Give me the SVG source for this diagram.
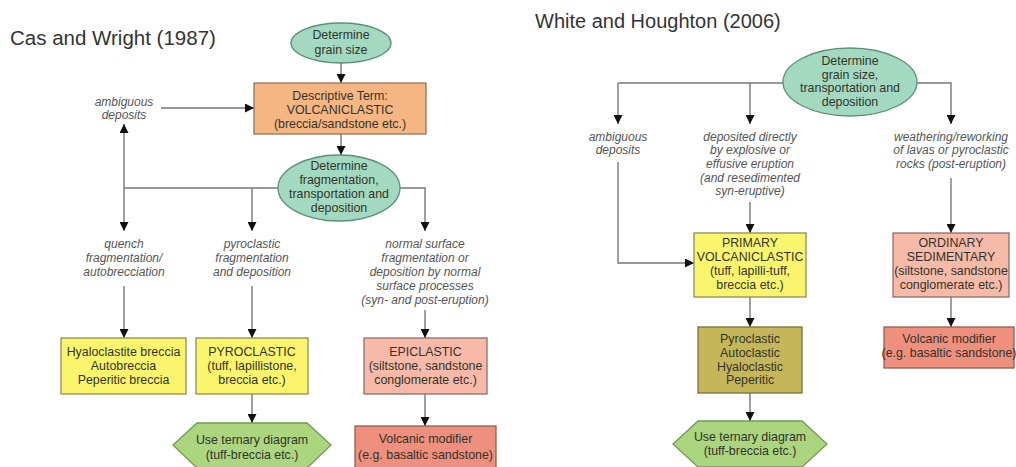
<svg xmlns="http://www.w3.org/2000/svg" width="1016" height="467" viewBox="0 0 1016 467">
<defs>
<marker id="ah" viewBox="0 0 10 10" refX="10" refY="5" markerWidth="9" markerHeight="9" markerUnits="userSpaceOnUse" orient="auto">
<path d="M0,0 L10,5 L0,10 Z" fill="#111"/>
</marker>
</defs>
<style>
text{font-family:"Liberation Sans",Arial,sans-serif;}
.title{font-size:20.5px;fill:#333;}
.t{font-size:12.4px;fill:#33332a;text-anchor:middle;}
.i{font-size:12px;fill:#555;font-style:italic;text-anchor:middle;}
.c{fill:none;stroke:#777;stroke-width:1.4;}
.a{marker-end:url(#ah);}
.ell{fill:#a3d9c0;stroke:#5c8f78;stroke-width:1.3;}
.org{fill:#f6b684;stroke:#8c7560;stroke-width:1.3;}
.yel{fill:#fbf56e;stroke:#8f8c55;stroke-width:1.3;}
.pink{fill:#f7baa8;stroke:#8d6f68;stroke-width:1.3;}
.sal{fill:#ef8f7d;stroke:#8d5f55;stroke-width:1.3;}
.hex{fill:#abd67f;stroke:#6e9a55;stroke-width:1.3;}
.olv{fill:#c5b759;stroke:#77703a;stroke-width:1.3;}
</style>
<rect width="1016" height="467" fill="#fff"/>

<text class="title" x="10" y="45">Cas and Wright (1987)</text>
<text class="title" x="535" y="28" style="font-size:20px">White and Houghton (2006)</text>

<g id="connectors">
<path class="c a" d="M341,63 V83"/>
<path class="c a" d="M161,108 H254"/>
<path class="c a" d="M341,134 V155"/>
<path class="c" d="M124,188 H278"/>
<path class="c a" d="M124,188 V124"/>
<path class="c a" d="M124,188 V231"/>
<path class="c a" d="M252,188 V231"/>
<path class="c a" d="M400,188 H425 V231"/>
<path class="c a" d="M124,286 V338"/>
<path class="c a" d="M252,286 V338"/>
<path class="c a" d="M425,310 V338"/>
<path class="c a" d="M252,394 V423"/>
<path class="c a" d="M425,394 V426"/>
<path class="c" d="M618,83 H783"/>
<path class="c a" d="M618,83 V124"/>
<path class="c a" d="M750,83 V124"/>
<path class="c a" d="M917,83 H951 V124"/>
<path class="c a" d="M618,162 V263 H694"/>
<path class="c a" d="M750,202 V233"/>
<path class="c a" d="M951,178 V233"/>
<path class="c a" d="M750,297 V327"/>
<path class="c a" d="M750,393 V421"/>
<path class="c a" d="M951,297 V327"/>
</g>

<g id="cw-grain">
<ellipse class="ell" cx="341" cy="43" rx="50" ry="20"/>
<text class="t" x="341" y="39">Determine</text>
<text class="t" x="341" y="54">grain size</text>
</g>
<g id="cw-volcaniclastic">
<rect class="org" x="254" y="83" width="172" height="51"/>
<text class="t" x="340" y="100">Descriptive Term:</text>
<text class="t" x="340" y="114">VOLCANICLASTIC</text>
<text class="t" x="340" y="128">(breccia/sandstone etc.)</text>
</g>
<g id="cw-ambiguous">
<text class="i" x="124" y="106">ambiguous</text>
<text class="i" x="124" y="119">deposits</text>
</g>
<g id="cw-fragmentation">
<ellipse class="ell" cx="339" cy="188" rx="61" ry="33"/>
<text class="t" x="339" y="170">Determine</text>
<text class="t" x="339" y="184">fragmentation,</text>
<text class="t" x="339" y="198">transportation and</text>
<text class="t" x="339" y="212">deposition</text>
</g>
<g id="cw-quench">
<text class="i" x="124" y="248">quench</text>
<text class="i" x="124" y="262">fragmentation/</text>
<text class="i" x="124" y="276">autobrecciation</text>
</g>
<g id="cw-pyro-label">
<text class="i" x="252" y="248">pyroclastic</text>
<text class="i" x="252" y="262">fragmentation</text>
<text class="i" x="252" y="276">and deposition</text>
</g>
<g id="cw-normal">
<text class="i" x="425" y="248">normal surface</text>
<text class="i" x="425" y="262">fragmentation or</text>
<text class="i" x="425" y="276">deposition by normal</text>
<text class="i" x="425" y="290">surface processes</text>
<text class="i" x="425" y="304">(syn- and post-eruption)</text>
</g>
<g id="cw-hyalo">
<rect class="yel" x="61" y="338" width="125" height="56"/>
<text class="t" x="123.5" y="356">Hyaloclastite breccia</text>
<text class="t" x="123.5" y="370">Autobreccia</text>
<text class="t" x="123.5" y="384">Peperitic breccia</text>
</g>
<g id="cw-pyroclastic">
<rect class="yel" x="196" y="338" width="112" height="56"/>
<text class="t" x="252" y="356">PYROCLASTIC</text>
<text class="t" x="252" y="370">(tuff, lapillistone,</text>
<text class="t" x="252" y="384">breccia etc.)</text>
</g>
<g id="cw-epiclastic">
<rect class="pink" x="364" y="338" width="123" height="56"/>
<text class="t" x="425.5" y="356">EPICLASTIC</text>
<text class="t" x="425.5" y="370">(siltstone, sandstone</text>
<text class="t" x="425.5" y="384">conglomerate etc.)</text>
</g>
<g id="cw-ternary">
<polygon class="hex" points="197,423 307,423 331,445 307,468 197,468 173,445"/>
<text class="t" x="252" y="444">Use ternary diagram</text>
<text class="t" x="252" y="459">(tuff-breccia etc.)</text>
</g>
<g id="cw-modifier">
<rect class="sal" x="355" y="426" width="141" height="45"/>
<text class="t" x="425.5" y="443">Volcanic modifier</text>
<text class="t" x="425.5" y="459">(e.g. basaltic sandstone)</text>
</g>

<g id="wh-grain">
<ellipse class="ell" cx="850" cy="82" rx="67" ry="34"/>
<text class="t" x="850" y="65">Determine</text>
<text class="t" x="850" y="78.5">grain size,</text>
<text class="t" x="850" y="92">transportation and</text>
<text class="t" x="850" y="105.5">deposition</text>
</g>
<g id="wh-ambiguous">
<text class="i" x="618" y="141">ambiguous</text>
<text class="i" x="618" y="154">deposits</text>
</g>
<g id="wh-deposited">
<text class="i" x="750" y="141">deposited directly</text>
<text class="i" x="750" y="154">by explosive or</text>
<text class="i" x="750" y="168">effusive eruption</text>
<text class="i" x="750" y="182">(and resedimented</text>
<text class="i" x="750" y="195">syn-eruptive)</text>
</g>
<g id="wh-weathering">
<text class="i" x="951" y="141">weathering/reworking</text>
<text class="i" x="951" y="154">of lavas or pyroclastic</text>
<text class="i" x="951" y="168">rocks (post-eruption)</text>
</g>
<g id="wh-primary">
<rect class="yel" x="694" y="233" width="112" height="64"/>
<text class="t" x="750" y="247">PRIMARY</text>
<text class="t" x="750" y="261">VOLCANICLASTIC</text>
<text class="t" x="750" y="275">(tuff, lapilli-tuff,</text>
<text class="t" x="750" y="289">breccia etc.)</text>
</g>
<g id="wh-ordinary">
<rect class="pink" x="893" y="233" width="116" height="64"/>
<text class="t" x="951" y="247">ORDINARY</text>
<text class="t" x="951" y="261">SEDIMENTARY</text>
<text class="t" x="951" y="275">(siltstone, sandstone</text>
<text class="t" x="951" y="289">conglomerate etc.)</text>
</g>
<g id="wh-types">
<rect class="olv" x="698" y="327" width="104" height="66"/>
<text class="t" x="750" y="343">Pyroclastic</text>
<text class="t" x="750" y="357">Autoclastic</text>
<text class="t" x="750" y="371">Hyaloclastic</text>
<text class="t" x="750" y="384">Peperitic</text>
</g>
<g id="wh-ternary">
<polygon class="hex" points="698,421 802,421 827,444 802,467 698,467 673,444"/>
<text class="t" x="750" y="441">Use ternary diagram</text>
<text class="t" x="750" y="455">(tuff-breccia etc.)</text>
</g>
<g id="wh-modifier">
<rect class="sal" x="884" y="327" width="130" height="41"/>
<text class="t" x="949" y="343">Volcanic modifier</text>
<text class="t" x="949" y="357">(e.g. basaltic sandstone)</text>
</g>
</svg>
